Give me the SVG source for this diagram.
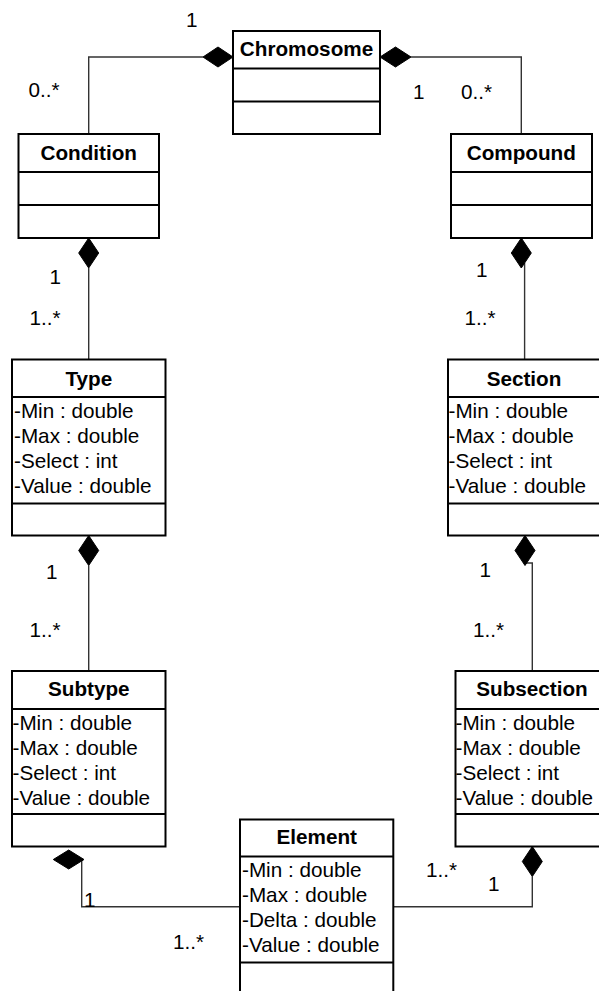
<svg xmlns="http://www.w3.org/2000/svg" width="599" height="991" viewBox="0 0 599 991">
  <style>
    .box { fill: #fff; stroke: #000; stroke-width: 2; }
    .sep { stroke: #000; stroke-width: 2; }
    .conn { fill: none; stroke: #333; stroke-width: 1.4; }
    .dia { fill: #000; stroke: #000; stroke-width: 1; }
    text { font-family: "Liberation Sans", Arial, sans-serif; font-size: 20.7px; fill: #000; }
    .title { font-weight: bold; text-anchor: middle; }
  </style>
  <rect width="599" height="991" fill="#fff"/>

  <!-- connectors (composition associations) -->
  <g id="connectors">
    <path class="conn" d="M203,57 H88.7 V134"/>
    <polygon class="dia" points="233,57 218,47 203,57 218,67"/>
    <path class="conn" d="M411,57 H521.3 V134"/>
    <polygon class="dia" points="380,57 395.5,47 411,57 395.5,67"/>

    <path class="conn" d="M88.7,268 V359.5"/>
    <polygon class="dia" points="88.7,238 98.7,253 88.7,268 78.7,253"/>
    <path class="conn" d="M524.6,263 V359.5"/>
    <polygon class="dia" points="521.3,238 531.3,253 521.3,268 511.3,253"/>

    <path class="conn" d="M88.7,565.5 V671"/>
    <polygon class="dia" points="88.7,535.5 98.7,550.5 88.7,565.5 78.7,550.5"/>
    <path class="conn" d="M526,563 H532.3 V671"/>
    <polygon class="dia" points="525,535.5 535,550.5 525,565.5 515,550.5"/>

    <path class="conn" d="M81.7,860 V906.7 H240"/>
    <polygon class="dia" points="53.3,859.5 68.7,850 84,859.5 68.7,869"/>
    <path class="conn" d="M532.3,876.5 V906.7 H393.3"/>
    <polygon class="dia" points="532.3,846.5 542.3,861.5 532.3,876.5 522.3,861.5"/>

    <!-- multiplicities -->
    <text x="186" y="26.7">1</text>
    <text x="28.5" y="97.3">0..*</text>
    <text x="413" y="99.3">1</text>
    <text x="461" y="99.3">0..*</text>
    <text x="49.5" y="284">1</text>
    <text x="29.5" y="325">1..*</text>
    <text x="476" y="276.7">1</text>
    <text x="464.5" y="325">1..*</text>
    <text x="46" y="579.3">1</text>
    <text x="29.5" y="636.7">1..*</text>
    <text x="479.5" y="576.7">1</text>
    <text x="473" y="636.7">1..*</text>
    <text x="84" y="906.7">1</text>
    <text x="173" y="949">1..*</text>
    <text x="426" y="877.3">1..*</text>
    <text x="488" y="890.7">1</text>
  </g>

  <g id="chromosome">
    <rect class="box" x="233" y="31" width="147" height="103"/>
    <line class="sep" x1="233" y1="68.5" x2="380" y2="68.5"/>
    <line class="sep" x1="233" y1="101.5" x2="380" y2="101.5"/>
    <text class="title" x="306.5" y="55.5">Chromosome</text>
  </g>

  <g id="condition">
    <rect class="box" x="18.5" y="134" width="140.5" height="104"/>
    <line class="sep" x1="18.5" y1="172" x2="159" y2="172"/>
    <line class="sep" x1="18.5" y1="205" x2="159" y2="205"/>
    <text class="title" x="88.7" y="159.5">Condition</text>
  </g>

  <g id="compound">
    <rect class="box" x="451" y="134" width="141" height="104"/>
    <line class="sep" x1="451" y1="172" x2="592" y2="172"/>
    <line class="sep" x1="451" y1="205" x2="592" y2="205"/>
    <text class="title" x="521.3" y="159.5">Compound</text>
  </g>

  <g id="type">
    <rect class="box" x="12" y="359.5" width="153.5" height="176"/>
    <line class="sep" x1="12" y1="397" x2="165.5" y2="397"/>
    <line class="sep" x1="12" y1="503.5" x2="165.5" y2="503.5"/>
    <text class="title" x="88.8" y="385.5">Type</text>
    <text x="14" y="418.3">-Min : double</text>
    <text x="14" y="443.3">-Max : double</text>
    <text x="14" y="468.3">-Select : int</text>
    <text x="14" y="493.3">-Value : double</text>
  </g>

  <g id="section">
    <rect class="box" x="448" y="359.5" width="153" height="176"/>
    <line class="sep" x1="448" y1="397" x2="601" y2="397"/>
    <line class="sep" x1="448" y1="503.5" x2="601" y2="503.5"/>
    <text class="title" x="524" y="385.5">Section</text>
    <text x="448.5" y="418.3">-Min : double</text>
    <text x="448.5" y="443.3">-Max : double</text>
    <text x="448.5" y="468.3">-Select : int</text>
    <text x="448.5" y="493.3">-Value : double</text>
  </g>

  <g id="subtype">
    <rect class="box" x="12" y="671" width="153.5" height="175.5"/>
    <line class="sep" x1="12" y1="709" x2="165.5" y2="709"/>
    <line class="sep" x1="12" y1="814" x2="165.5" y2="814"/>
    <text class="title" x="88.8" y="695.7">Subtype</text>
    <text x="12.5" y="730">-Min : double</text>
    <text x="12.5" y="755">-Max : double</text>
    <text x="12.5" y="780">-Select : int</text>
    <text x="12.5" y="804.5">-Value : double</text>
  </g>

  <g id="subsection">
    <rect class="box" x="455.5" y="671" width="153.5" height="175.5"/>
    <line class="sep" x1="455.5" y1="709" x2="609" y2="709"/>
    <line class="sep" x1="455.5" y1="814" x2="609" y2="814"/>
    <text class="title" x="532" y="695.5">Subsection</text>
    <text x="455.5" y="730">-Min : double</text>
    <text x="455.5" y="755">-Max : double</text>
    <text x="455.5" y="780">-Select : int</text>
    <text x="455.5" y="804.5">-Value : double</text>
  </g>

  <g id="element">
    <rect class="box" x="240" y="819.5" width="153.3" height="176"/>
    <line class="sep" x1="240" y1="856.5" x2="393.3" y2="856.5"/>
    <line class="sep" x1="240" y1="962.5" x2="393.3" y2="962.5"/>
    <text class="title" x="316.7" y="844">Element</text>
    <text x="242" y="876.7">-Min : double</text>
    <text x="242" y="901.7">-Max : double</text>
    <text x="242" y="926.7">-Delta : double</text>
    <text x="242" y="951.7">-Value : double</text>
  </g>
</svg>
